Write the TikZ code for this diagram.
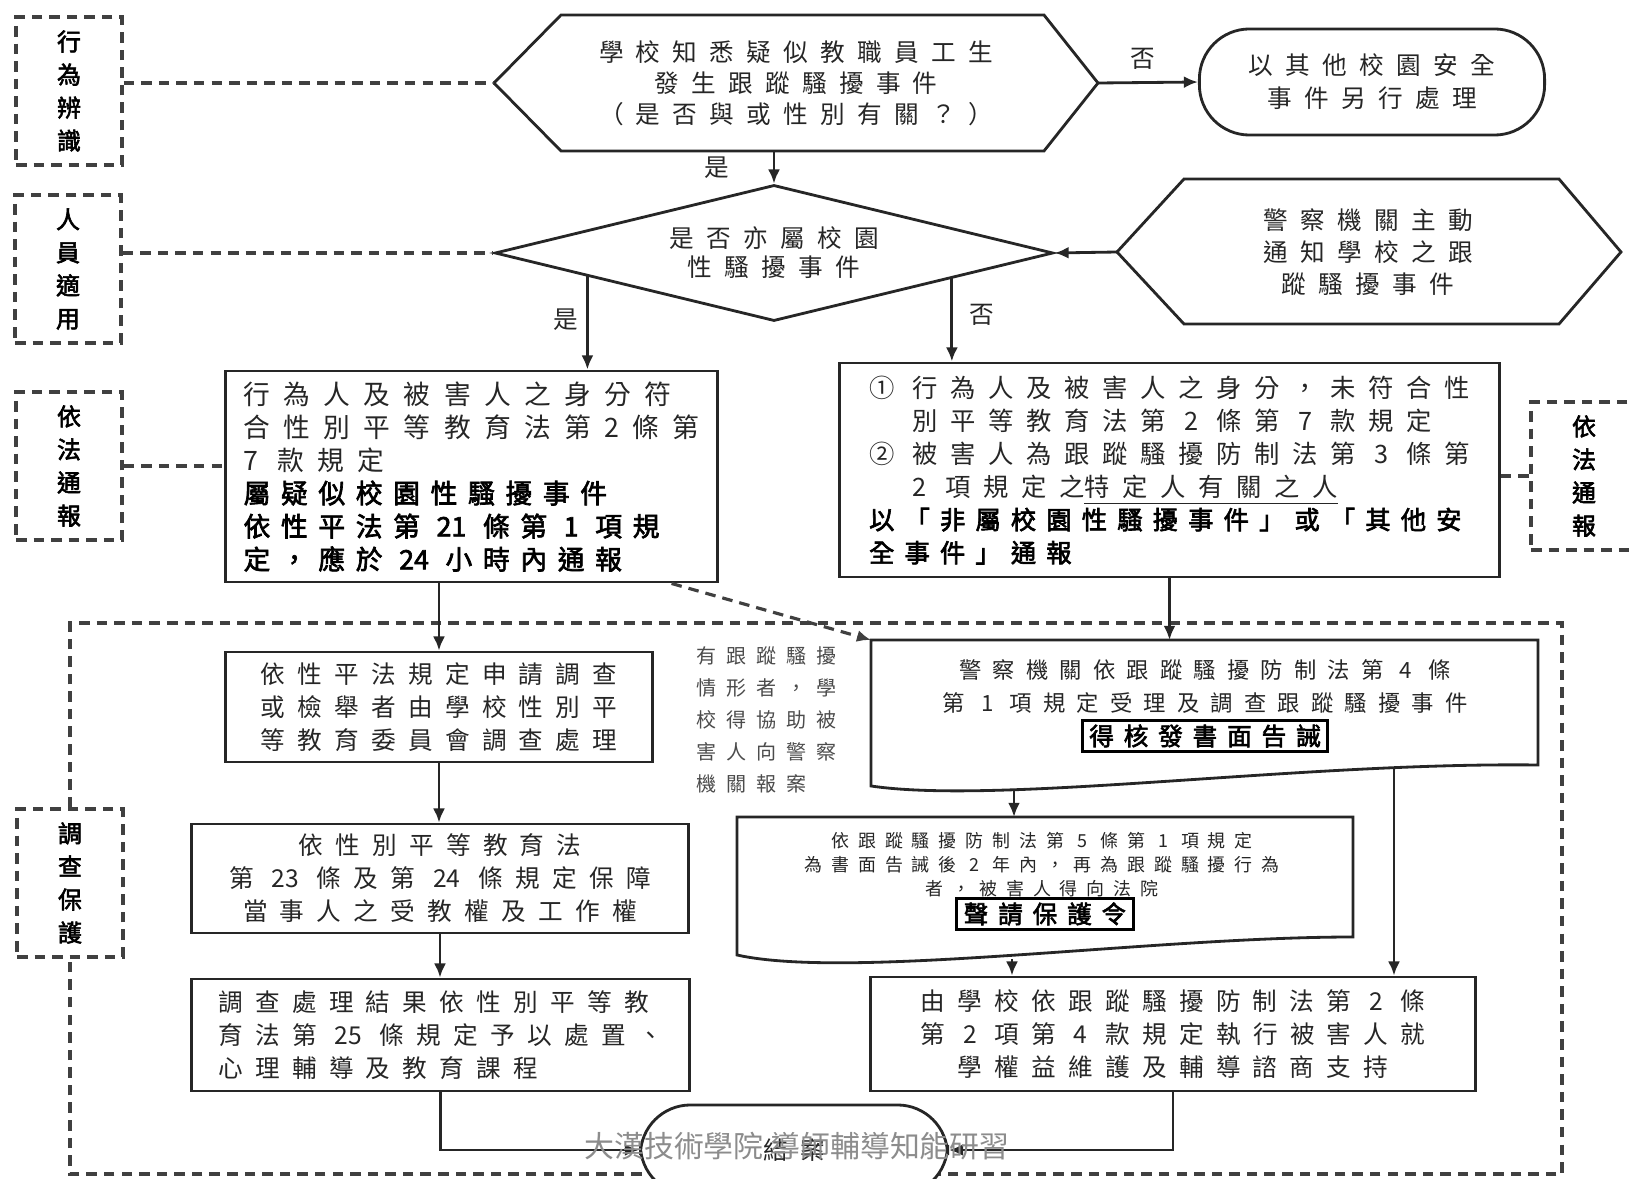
\documentclass[tikz,border=0pt]{standalone}
\usepackage{fontspec}
\usepackage{tikz}
\usetikzlibrary{shapes.geometric,arrows.meta,calc}
\newfontfamily\cjk[LetterSpace=50]{Noto Sans CJK TC}
\newfontfamily\cjkb[LetterSpace=40,FakeBold=2.5]{Noto Sans CJK TC}
\newfontfamily\wmfont{Noto Sans CJK TC}
\newcommand\dd[1]{{\addfontfeature{LetterSpace=0.0}#1}}
\tikzset{
  boxS/.style ={draw=black!85, line width=0.8pt, fill=white, inner sep=0pt},
  termS/.style={draw=black!85, line width=0.8pt, fill=white, rounded corners=0.5cm, inner sep=0pt},
  hexS/.style ={draw=black!85, line width=0.8pt, fill=white},
  txS/.style  ={text=black!85, font=\cjk\fontsize{7pt}{9.4pt}\selectfont},
  keyS/.style ={draw=black, line width=0.9pt, inner xsep=2pt, inner ysep=1.2pt, font=\cjkb\fontsize{7pt}{8pt}\selectfont},
  lblS/.style ={draw=black!75, dash pattern=on 3pt off 2pt, line width=0.9pt, minimum width=1.06cm,
                minimum height=1.48cm, align=center, font=\cjkb\fontsize{6.8pt}{9.4pt}\selectfont},
  dashS/.style={draw=black!75, dash pattern=on 3pt off 2pt, line width=0.9pt},
  arrS/.style ={draw=black!85, line width=0.8pt, -{Latex[length=4pt,width=3.4pt]}},
}
\begin{document}
\begin{tikzpicture}[x=0.01cm, y=-0.01cm]
  \useasboundingbox (0,0) rectangle (1629,1179);
  \clip (0,0) rectangle (1629,1179);
  \foreach \nm/\x/\y/\t in {l1/69/91/{行\\為\\辨\\識}, l2/68/269/{人\\員\\適\\用},
      l3/69/466/{依\\法\\通\\報}, l4/70/883/{調\\查\\保\\護}, r3/1584/476/{依\\法\\通\\報}}
    { \node[lblS] (\nm) at (\x,\y) {\t}; }
  \draw[dashS] (l4.north) -- (70,623) -- (1562,623) -- (1562,1174) -- (70,1174) -- (l4.south);

  \draw[hexS] (494,83) coordinate (h1w) -- (561,15) -- (1044,15) -- (1098,83) coordinate (h1e)
    -- (1044,151) -- (561,151) -- cycle;
  \coordinate (h1s) at (774,151);
  \node[txS, align=center, font=\cjk\fontsize{7pt}{8.8pt}\selectfont] (h1) at (796,83)
    {學校知悉疑似教職員工生\\發生跟蹤騷擾事件\\（是否與或性別有關？）};
  \node[termS, txS, align=center, minimum width=3.45cm, minimum height=1.06cm] (t1) at (1372,82)
    {以其他校園安全\\事件另行處理};
  \node[diamond, aspect=4, hexS, txS, align=center, minimum width=5.58cm, minimum height=1.36cm,
    inner sep=0pt, font=\cjk\fontsize{7pt}{8.2pt}\selectfont] (dia) at (774,253) {是否亦屬校園\\性騷擾事件};
  \draw[hexS] (1117,252) coordinate (h2w) -- (1184,179) -- (1559,179) -- (1621,252)
    -- (1559,324) -- (1184,324) -- cycle;
  \node[txS, align=center, font=\cjk\fontsize{7pt}{9.1pt}\selectfont] (h2) at (1368,252)
    {警察機關主動\\通知學校之跟\\蹤騷擾事件};

  \node[boxS, txS, align=left, minimum width=4.91cm, minimum height=2.11cm,
    font=\cjk\fontsize{7.6pt}{9.4pt}\selectfont] (b1) at (471.5,476.5)
    {行為人及被害人之身分符\\合性別平等教育法第2條第\\7 款規定\\
     {\cjkb\color{black}屬疑似校園性騷擾事件}\\{\cjkb\color{black}依性平法第 \dd{21} 條第 1 項規}\\
     {\cjkb\color{black}定，應於 \dd{24} 小時內通報}};
  \node[boxS, txS, align=left, minimum width=6.59cm, minimum height=2.14cm,
    font=\cjk\fontsize{7.2pt}{9.4pt}\selectfont] (b2) at (1169.5,470)
    {① 行為人及被害人之身分，未符合性\\\phantom{① }別平等教育法第 2 條第 7 款規定\\
     ② 被害人為跟蹤騷擾防制法第 3 條第\\\phantom{① }2 項規定之\underline{特定人有關之人}\\
     {\cjkb\color{black}以「非屬校園性騷擾事件」或「其他安}\\{\cjkb\color{black}全事件」通報}};

  \node[boxS, txS, align=center, minimum width=4.26cm, minimum height=1.10cm] (c1) at (439,707)
    {依性平法規定申請調查\\或檢舉者由學校性別平\\等教育委員會調查處理};
  \node[boxS, txS, align=center, minimum width=4.96cm, minimum height=1.09cm] (c2) at (440,878.5)
    {依性別平等教育法\\第 \dd{23} 條及第 \dd{24} 條規定保障\\當事人之受教權及工作權};
  \node[boxS, txS, align=left, minimum width=4.97cm, minimum height=1.12cm] (c3) at (440.5,1035)
    {調查處理結果依性別平等教\\育法第 \dd{25} 條規定予以處置、\\心理輔導及教育課程};
  \node[txS, align=left, anchor=west, text=black!70, font=\cjk\fontsize{5.7pt}{9.1pt}\selectfont] (note)
    at (684,719.5) {有跟蹤騷擾\\情形者，學\\校得協助被\\害人向警察\\機關報案};

  \draw[hexS] (871,640) coordinate (d1nw) -- (1538,640) -- (1538,765)
    .. controls (1300,762) and (1000,805) .. (871,786) -- cycle;
  \coordinate (d1a) at (1014,791);
  \coordinate (d1b) at (1394,768);
  \node[txS, align=center, font=\cjk\fontsize{6.35pt}{9.4pt}\selectfont] (d1) at (1205,686.5)
    {警察機關依跟蹤騷擾防制法第 4 條\\第 1 項規定受理及調查跟蹤騷擾事件};
  \node[keyS] (d1k) at (1205,736) {得核發書面告誡};
  \draw[hexS] (737,817) coordinate (d2nw) -- (1353,817) -- (1353,937)
    .. controls (1150,937) and (850,980) .. (737,955) -- cycle;
  \coordinate (d2a) at (1012,959);
  \node[txS, align=center, font=\cjk\fontsize{5.1pt}{6.8pt}\selectfont] (d2) at (1042,865)
    {依跟蹤騷擾防制法第 5 條第 1 項規定\\為書面告誡後 2 年內，再為跟蹤騷擾行為\\者，被害人得向法院};
  \node[keyS] (d2k) at (1045,914) {聲請保護令};
  \node[boxS, txS, align=center, minimum width=6.04cm, minimum height=1.14cm] (e1) at (1173,1034)
    {由學校依跟蹤騷擾防制法第 2 條\\第 2 項第 4 款規定執行被害人就\\學權益維護及輔導諮商支持};
  \node[termS, txS, minimum width=3.07cm, minimum height=0.9cm] (t2) at (794,1150) {結案};

  \foreach \nm/\x/\y/\t in {y1/717/168/是, n1/1143/59/否, y2/566/320/是, n2/982/315/否}
    { \node[txS] (\nm) at (\x,\y) {\t}; }

  \draw[dashS] (h1w -| l1.east) -- (h1w);
  \draw[dashS] (dia.west -| l2.east) -- (dia.west);
  \draw[dashS] (l3.east) -- (l3.east -| b1.west);
  \draw[dashS] (b2.east |- r3.west) -- (r3.west);
  \draw[arrS] (h1e) -- (t1.west);
  \draw[arrS] (h1s) -- (dia.north);
  \draw[arrS] (h2w) -- (dia.east);
  \coordinate (dyes) at ($(dia.west)!0.335!(dia.south)$);
  \coordinate (dno) at ($(dia.east)!0.366!(dia.south)$);
  \draw[arrS] (dyes) -- (dyes |- b1.north);
  \draw[arrS] (dno) -- (dno |- b2.north);
  \draw[arrS] (b1.south -| c1.north) -- (c1.north);
  \draw[arrS] (c1.south) -- (c1.south |- c2.north);
  \draw[arrS] (c2.south) -- (c2.south |- c3.north);
  \draw[arrS] (c3.south) |- (t2.west);
  \draw[arrS] (b2.south) -- (b2.south |- d1nw);
  \draw[arrS, dashS] ($(b1.south east)+(-47,0)$) -- (d1nw);
  \draw[arrS] (d1a) -- (d1a |- d2nw);
  \draw[arrS] (d2a) -- (d2a |- e1.north);
  \draw[arrS] (d1b) -- (d1b |- e1.north);
  \draw[arrS] (e1.south) |- (t2.east);
  \node[text=black!45, font=\wmfont\fontsize{8.5pt}{10pt}\selectfont] (wm) at (797,1146)
    {大漢技術學院 導師輔導知能研習};
\end{tikzpicture}
\end{document}
